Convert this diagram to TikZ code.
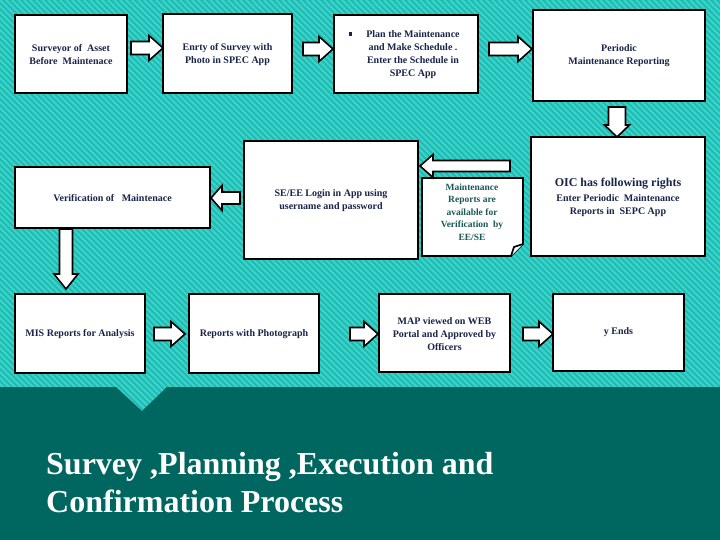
\documentclass[tikz,border=0pt]{standalone}
\usepackage{fontspec}
\setmainfont{Liberation Serif}
\definecolor{tealA}{RGB}{24,188,178}
\definecolor{tealB}{RGB}{64,207,198}
\definecolor{darkband}{RGB}{0,102,96}
\definecolor{navy}{RGB}{24,36,72}
\definecolor{notetxt}{RGB}{26,88,88}
\tikzset{
  box/.style={draw=black, line width=1.6pt, fill=white, inner sep=0pt},
  txt/.style={align=center, text=navy, inner sep=0pt, font=\bfseries\fontsize{10}{13}\selectfont},
  barrow/.style={draw=black, line width=1.6pt, fill=white, line join=miter},
  titletxt/.style={anchor=base west, inner sep=0pt, text=white, font=\bfseries\fontsize{32}{38}\selectfont},
}
% right-pointing block arrow: x0, x1 (tip), yc
\newcommand\arrRgt[3]{%
  \draw[barrow] (#1,#3-6.5) -- (#2-14,#3-6.5) -- (#2-14,#3-12.5) -- (#2,#3) -- (#2-14,#3+12.5) -- (#2-14,#3+6.5) -- (#1,#3+6.5) -- cycle;}
% left-pointing block arrow: x tip, x end, yc, shaft half, head half, head length
\newcommand\arrLft[6]{%
  \draw[barrow] (#2,#3-#4) -- (#1+#6,#3-#4) -- (#1+#6,#3-#5) -- (#1,#3) -- (#1+#6,#3+#5) -- (#1+#6,#3+#4) -- (#2,#3+#4) -- cycle;}
% down-pointing block arrow: xc, y0, y1 (tip), shaft half, head half, head length
\newcommand\arrDwn[6]{%
  \draw[barrow] (#1-#4,#2) -- (#1-#4,#3-#6) -- (#1-#5,#3-#6) -- (#1,#3) -- (#1+#5,#3-#6) -- (#1+#4,#3-#6) -- (#1+#4,#2) -- cycle;}
\begin{document}
\begin{tikzpicture}[x=1pt,y=-1pt]
\useasboundingbox (0,0) rectangle (720,540);
% striped teal background
\begin{scope}
  \clip (0,0) rectangle (720,415);
  \fill[tealA] (0,0) rectangle (720,415);
  \foreach \i in {-420,-414,...,720} \draw[tealB, line width=2.2pt] (\i,0) -- ++(416,416);
\end{scope}
% dark band with notch
\fill[darkband] (0,387) -- (116,387) -- (142,411) -- (167,387) -- (720,387) -- (720,540) -- (0,540) -- cycle;

% boxes
\node[box, minimum width=112pt, minimum height=78pt] (n1) at (71,54) {};
\node[txt] (t1) at (71,55) {Surveyor of\ \ Asset\\Before\ \ Maintenace};
\node[box, minimum width=129pt, minimum height=79pt] (n2) at (227.5,53.5) {};
\node[txt] (t2) at (227.5,54.5) {Enrty of Survey with\\Photo in SPEC App};
\node[box, minimum width=144pt, minimum height=78pt] (n3) at (406,54) {};
\node[txt] (t3) at (413,55) {Plan the Maintenance\\and Make Schedule .\\Enter the Schedule in\\SPEC App};
\fill[navy] (348.5,32.5) rectangle +(3.6,3.6);
\node[box, minimum width=172pt, minimum height=91pt] (n4) at (619,55.5) {};
\node[txt] (t4) at (619,56) {Periodic\\Maintenance Reporting};
\node[box, minimum width=174pt, minimum height=119pt] (n5) at (618,196.5) {};
\node[txt, font=\bfseries\fontsize{12}{15}\selectfont] (t5a) at (618,184) {OIC has following rights};
\node[txt] (t5b) at (618,205.5) {Enter Periodic\ \ Maintenance\\Reports in\ \ SEPC App};
\node[box, minimum width=174pt, minimum height=118pt] (n7) at (331,200) {};
\node[txt] (t7) at (331,200.5) {SE/EE Login in App using\\username and password};
% note with folded corner
\draw[line width=1.6pt, fill=white, line join=miter] (422,178) -- (523,178) -- (523,244) -- (511,256) -- (422,256) -- cycle;
\draw[line width=1.6pt, fill=white, line join=miter] (511,256) -- (514,247) -- (523,244);
\node[txt, text=notetxt, font=\bfseries\fontsize{9.5}{12.5}\selectfont] (t6) at (472,212) {Maintenance\\Reports are\\available for\\Verification\ \ by\\EE/SE};
\node[box, minimum width=195pt, minimum height=61pt] (n8) at (112.5,197.5) {};
\node[txt] (t8) at (112.5,198) {Verification of\ \ \ Maintenace};
\node[box, minimum width=130pt, minimum height=79pt] (n9) at (80,333.5) {};
\node[txt] (t9) at (80,334) {MIS Reports for Analysis};
\node[box, minimum width=130pt, minimum height=79pt] (n10) at (254,333.5) {};
\node[txt] (t10) at (254,334) {Reports with Photograph};
\node[box, minimum width=131pt, minimum height=78pt] (n11) at (444.5,333) {};
\node[txt] (t11) at (444.5,334) {MAP viewed on WEB\\Portal and Approved by\\Officers};
\node[box, minimum width=131pt, minimum height=77pt] (n12) at (618.5,332.5) {};
\node[txt] (t12) at (618.5,332) {y Ends};

% block arrows
\arrRgt{131}{163}{48}
\arrRgt{303}{333}{49}
\arrRgt{489}{532}{49}
\arrDwn{617}{107}{137}{8.5}{12.5}{12}
\arrLft{420}{510}{166}{5.5}{11.5}{13}
\arrLft{211}{240}{198}{6}{12.5}{11}
\arrDwn{66}{229}{289}{6.5}{12}{15}
\arrRgt{154}{185}{334}
\arrRgt{350}{378}{334}
\arrRgt{523}{553}{334}

% title
\node[titletxt] (title1) at (46,474) {Survey ,Planning ,Execution and};
\node[titletxt] (title2) at (46,512) {Confirmation Process};
\end{tikzpicture}
\end{document}
